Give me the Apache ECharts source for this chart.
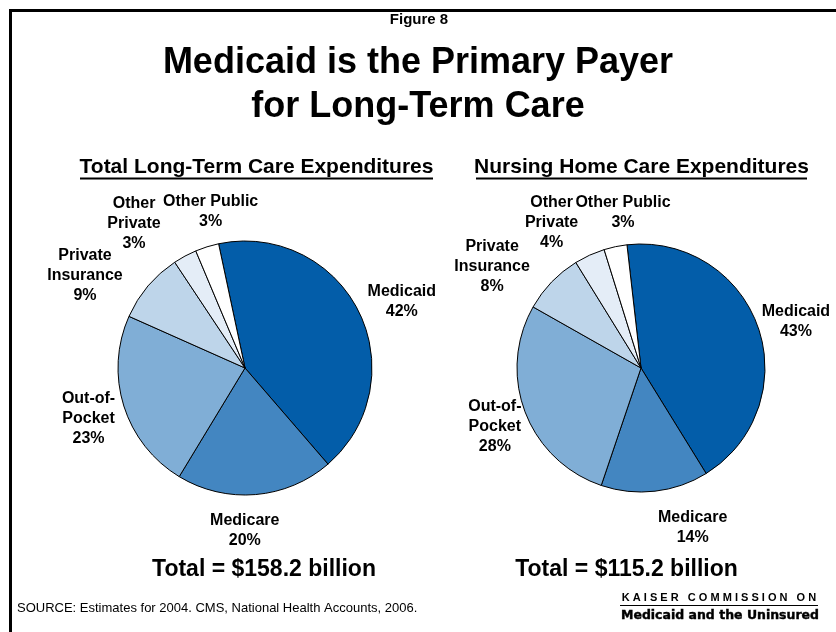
<!DOCTYPE html>
<html>
<head>
<meta charset="utf-8">
<style>
  html, body { margin: 0; padding: 0; background: #ffffff; }
  #chart { width: 836px; height: 632px; }
</style>
<script src="https://cdn.jsdelivr.net/npm/echarts@6/dist/echarts.min.js"></script>
</head>
<body>
<div id="chart"></div>
<script>
// ---- Data ----
const categories = ['Medicaid', 'Medicare', 'Out-of-Pocket', 'Private Insurance', 'Other Private', 'Other Public'];
const categoryLabels = ['Medicaid', 'Medicare', 'Out-of-\nPocket', 'Private\nInsurance', 'Other\nPrivate', 'Other Public'];
const totalLtcShares = [42, 20, 23, 9, 3, 3];          // Total Long-Term Care Expenditures (%)
const nursingHomeShares = [43, 14, 28, 8, 4, 3];       // Nursing Home Care Expenditures (%)
const pieTitles = ['Total Long-Term Care Expenditures', 'Nursing Home Care Expenditures'];
const totalsText = ['Total = $158.2 billion', 'Total = $115.2 billion'];

// ---- Style ----
const sliceColors = ['#035DA9', '#4386C1', '#80AED6', '#BED5EA', '#E4EDF7', '#FFFFFF'];
const FONT = 'Liberation Sans, Arial, sans-serif';
const pies = [
  { values: totalLtcShares, center: [245, 368], radius: 127, startAngle: 102,
    labelRadius: 165,
    nudge: [[9, 7], [-14, -2], [1, 1], [-34, 14], [-33, 1], [15, 1]] },
  { values: nursingHomeShares, center: [641, 368], radius: 124, startAngle: 96.5,
    labelRadius: 165,
    nudge: [[-1, 8], [33, -4], [8, 0], [-30, 13], [-21, 5], [16, 6]] }
];

function midAngles(values, start) {
  const total = values.reduce((a, b) => a + b, 0);
  let a = start;
  return values.map(v => {
    const span = v / total * 360;
    const mid = a - span / 2;
    a -= span;
    return mid;
  });
}

const series = pies.map((p, si) => {
  const mids = midAngles(p.values, p.startAngle);
  return {
    type: 'pie',
    center: p.center,
    radius: p.radius,
    startAngle: p.startAngle,
    clockwise: true,
    avoidLabelOverlap: false,
    silent: true,
    animation: false,
    data: categories.map((c, i) => ({
      name: c,
      value: p.values[i],
      itemStyle: { color: sliceColors[i] }
    })),
    itemStyle: { borderColor: '#000000', borderWidth: 1 },
    label: {
      show: true,
      position: 'outside',
      formatter: (prm) => categoryLabels[prm.dataIndex] + '\n' + prm.value + '%',
      fontFamily: FONT,
      fontWeight: 'bold',
      fontSize: 16,
      lineHeight: 20,
      color: '#000000'
    },
    labelLine: { show: false },
    labelLayout: (prm) => {
      const i = prm.dataIndex;
      const rad = mids[i] * Math.PI / 180;
      return {
        x: p.center[0] + p.labelRadius * Math.cos(rad) + p.nudge[i][0],
        y: p.center[1] - p.labelRadius * Math.sin(rad) + p.nudge[i][1],
        align: 'center',
        verticalAlign: 'middle'
      };
    },
    emphasis: { disabled: true }
  };
});

const chart = echarts.init(document.getElementById('chart'), null, { renderer: 'canvas' });

const option = {
  backgroundColor: '#ffffff',
  animation: false,
  title: [
    { text: 'Figure 8', left: 419, top: 11, textAlign: 'center', padding: 0,
      textStyle: { fontFamily: FONT, fontSize: 15, fontWeight: 'bold', color: '#000', lineHeight: 17 } },
    { text: 'Medicaid is the Primary Payer\nfor Long-Term Care', left: 418, top: 41, textAlign: 'center', padding: 0,
      textStyle: { fontFamily: FONT, fontSize: 36, fontWeight: 'bold', color: '#000', lineHeight: 44 } },
    { text: pieTitles[0], left: 256.5, top: 155, textAlign: 'center', padding: 0,
      textStyle: { fontFamily: FONT, fontSize: 21, fontWeight: 'bold', color: '#000', lineHeight: 24 } },
    { text: pieTitles[1], left: 641.5, top: 155, textAlign: 'center', padding: 0,
      textStyle: { fontFamily: FONT, fontSize: 21, fontWeight: 'bold', color: '#000', lineHeight: 24 } },
    { text: totalsText[0], left: 264, top: 556, textAlign: 'center', padding: 0,
      textStyle: { fontFamily: FONT, fontSize: 23, fontWeight: 'bold', color: '#000', lineHeight: 28 } },
    { text: totalsText[1], left: 626.5, top: 556, textAlign: 'center', padding: 0,
      textStyle: { fontFamily: FONT, fontSize: 23, fontWeight: 'bold', color: '#000', lineHeight: 28 } },
    { text: 'SOURCE: Estimates for 2004. CMS, National Health Accounts, 2006.', left: 17, top: 600, padding: 0,
      textStyle: { fontFamily: FONT, fontSize: 13, fontWeight: 'normal', color: '#000', lineHeight: 16 } }
  ],
  graphic: [
    { type: 'polyline', silent: true,
      shape: { points: [[10.5, 632], [10.5, 10.5], [836, 10.5]] },
      style: { stroke: '#000', lineWidth: 3, fill: null } },
    { type: 'line', silent: true, shape: { x1: 80, y1: 178.5, x2: 433, y2: 178.5 },
      style: { stroke: '#000', lineWidth: 2 } },
    { type: 'line', silent: true, shape: { x1: 476, y1: 178.5, x2: 807, y2: 178.5 },
      style: { stroke: '#000', lineWidth: 2 } },
    { type: 'text', silent: true,
      style: { text: 'K A I S E R   C O M M I S S I O N   O N', x: 719, y: 598,
        textAlign: 'center', textVerticalAlign: 'middle',
        font: 'bold 11px Liberation Sans, Arial, sans-serif', fill: '#000' } },
    { type: 'line', silent: true, shape: { x1: 620, y1: 605.5, x2: 818, y2: 605.5 },
      style: { stroke: '#000', lineWidth: 1 } },
    { type: 'text', silent: true,
      style: { text: 'Medicaid and the Uninsured', x: 720, y: 616,
        textAlign: 'center', textVerticalAlign: 'middle',
        font: 'bold 12.5px DejaVu Sans, sans-serif', fill: '#000', stroke: '#000', lineWidth: 0.4 } }
  ],
  series: series
};

chart.setOption(option);
</script>
</body>
</html>
